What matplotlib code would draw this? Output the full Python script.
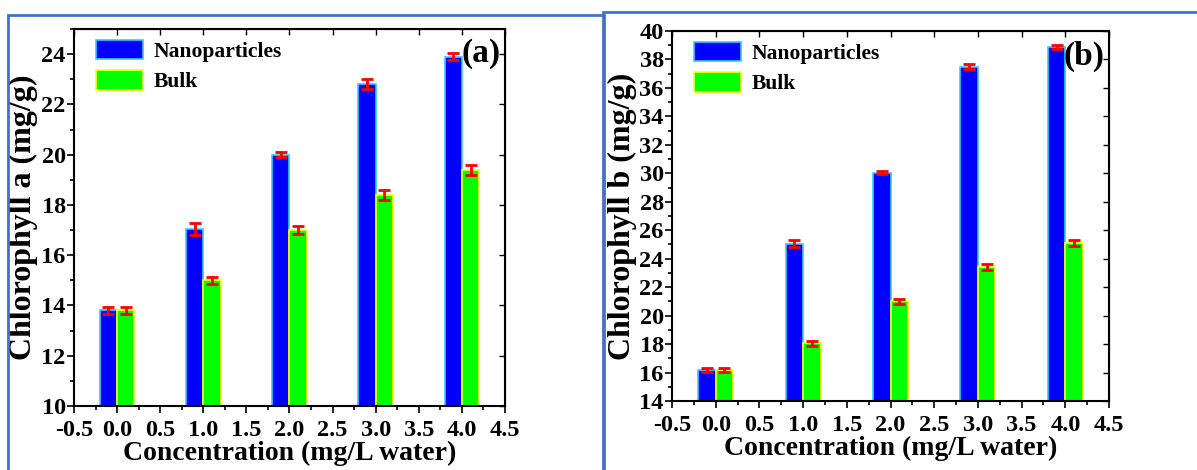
import matplotlib.pyplot as plt
from matplotlib.patches import Rectangle
from matplotlib.ticker import MultipleLocator
import numpy as np

plt.rcParams['font.family'] = 'Liberation Serif'
plt.rcParams['font.weight'] = 'bold'
plt.rcParams['axes.labelweight'] = 'bold'

# Data
conc = [0.0, 1.0, 2.0, 3.0, 4.0]

chl_a_nano = [13.8, 17.05, 20.0, 22.8, 23.9]
chl_a_nano_err = [0.15, 0.25, 0.1, 0.2, 0.15]
chl_a_bulk = [13.8, 15.0, 17.0, 18.4, 19.4]
chl_a_bulk_err = [0.15, 0.15, 0.15, 0.2, 0.2]

chl_b_nano = [16.2, 25.05, 30.05, 37.5, 38.9]
chl_b_nano_err = [0.15, 0.25, 0.1, 0.2, 0.15]
chl_b_bulk = [16.2, 18.05, 21.0, 23.4, 25.1]
chl_b_bulk_err = [0.15, 0.15, 0.2, 0.2, 0.2]

fig = plt.figure(figsize=(11.97, 4.70), dpi=100)

# blue frames around each panel
fig.patches.append(Rectangle((8 / 1197, -0.1), 596 / 1197, 1.1 - 15 / 470, transform=fig.transFigure,
                             fill=False, edgecolor='#4472C4', linewidth=2))
fig.patches.append(Rectangle((603 / 1197, -0.1), 600 / 1197, 1.1 - 12 / 470, transform=fig.transFigure,
                             fill=False, edgecolor='#4472C4', linewidth=2))

ax1 = fig.add_axes([0.0618, 0.1362, 0.3601, 0.8021])
ax2 = fig.add_axes([0.5614, 0.1468, 0.3651, 0.7872])


def draw(ax, nano, nano_err, bulk, bulk_err, ylim, ylabel, tag):
    x = np.array(conc)
    ax.bar(x - 0.1, nano, width=0.2, color='#0000FF', edgecolor='#33CCFF', linewidth=1.2,
           label='Nanoparticles', zorder=2)
    ax.bar(x + 0.1, bulk, width=0.2, color='#00FF00', edgecolor='#FFFF00', linewidth=1.2,
           label='Bulk', zorder=2)
    ax.errorbar(x - 0.1, nano, yerr=nano_err, fmt='none', ecolor='red', elinewidth=2,
                capsize=4, capthick=2, zorder=3)
    ax.errorbar(x + 0.1, bulk, yerr=bulk_err, fmt='none', ecolor='red', elinewidth=2,
                capsize=4, capthick=2, zorder=3)

    ax.set_xlim(-0.5, 4.5)
    ax.set_ylim(*ylim)
    ax.xaxis.set_major_locator(MultipleLocator(0.5))
    ax.xaxis.set_minor_locator(MultipleLocator(0.25))
    ax.yaxis.set_major_locator(MultipleLocator(2))
    ax.yaxis.set_minor_locator(MultipleLocator(1))
    ax.xaxis.set_major_formatter(plt.FormatStrFormatter('%.1f'))
    ax.tick_params(which='both', direction='out', top=False, right=False, width=1.2)
    ax.tick_params(which='major', length=5, labelsize=17.5)
    ax.tick_params(which='minor', length=3)
    ax.tick_params(axis='x', pad=5)
    ax.tick_params(axis='y', pad=1)
    for lbl in ax.get_xticklabels() + ax.get_yticklabels():
        lbl.set_fontweight('bold')
    # inward ticks on top and right
    sec_x = ax.secondary_xaxis('top')
    sec_x.xaxis.set_major_locator(MultipleLocator(0.5))
    sec_x.tick_params(direction='in', length=4, labeltop=False, width=1)
    sec_y = ax.secondary_yaxis('right')
    sec_y.yaxis.set_major_locator(MultipleLocator(2))
    sec_y.tick_params(direction='in', length=4, labelright=False, width=1)
    for s in ax.spines.values():
        s.set_linewidth(1.5)

    ax.set_xlabel('Concentration (mg/L water)', fontsize=20, fontweight='bold', labelpad=0)
    ax.set_ylabel(ylabel, fontsize=23, fontweight='bold', labelpad=2)
    ax.text(0.99, 0.975, tag, transform=ax.transAxes, ha='right', va='top', fontsize=24,
            fontweight='bold')
    ax.legend(loc='upper left', bbox_to_anchor=(0.025, 1.0), frameon=False,
              handlelength=2.2, handleheight=1.0, borderaxespad=0.1, labelspacing=0.4,
              handletextpad=0.5, prop={'weight': 'bold', 'size': 15.5})


draw(ax1, chl_a_nano, chl_a_nano_err, chl_a_bulk, chl_a_bulk_err, (10, 25), 'Chlorophyll a (mg/g)', '(a)')
draw(ax2, chl_b_nano, chl_b_nano_err, chl_b_bulk, chl_b_bulk_err, (14, 40), 'Chlorophyll b (mg/g)', '(b)')

fig.savefig('out.png', dpi=100)
